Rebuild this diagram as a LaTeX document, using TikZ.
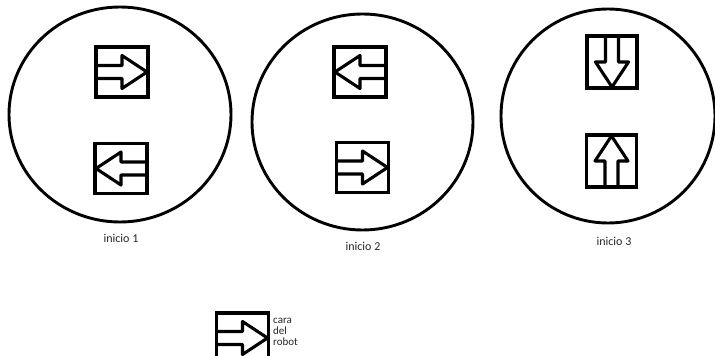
\documentclass[tikz,border=0pt]{standalone}
\usepackage{fontspec}
\setmainfont{Carlito}
\usetikzlibrary{shapes.geometric}
\tikzset{
  ring/.style={draw, ellipse, line width=2.9pt, inner sep=0pt},
  facebox/.style={draw, line width=3.1pt, line join=miter},
  facearrow/.style={draw, line width=3.1pt, line join=round},
  lbl/.style={font=\fontsize{12}{12}\selectfont, text=black!85, inner sep=0pt},
  face/.pic={
    \draw[facebox] (-26,-25) rectangle (26,25);
    \draw[facearrow] (-26,6.5) -- (0,6.5) -- (0,16.5) -- (25,0) -- (0,-16.5) -- (0,-6.5) -- (-26,-6.5);
  }
}
\begin{document}
\begin{tikzpicture}[x=1pt,y=1pt]
\useasboundingbox (0,0) rectangle (715,356);
% circles
\node[ring, minimum width=222pt, minimum height=215pt] (c1) at (120,241.5) {};
\node[ring, minimum width=221pt, minimum height=216pt] (c2) at (362.5,234) {};
\node[ring, minimum width=214pt, minimum height=214pt] (c3) at (608,240) {};
% faces
\pic at (122,284) {face};
\pic[rotate=180] at (121,187.5) {face};
\pic[rotate=180] at (360,284) {face};
\pic at (362.5,188.5) {face};
\pic[rotate=-90] at (612,294) {face};
\pic[rotate=90] at (611.5,195) {face};
% labels
\node[lbl] (l1) at (121,118) {inicio 1};
\node[lbl] (l2) at (363,110) {inicio 2};
\node[lbl] (l3) at (614,115) {inicio 3};
% legend
\pic at (242.5,18) {face};
\node[lbl, anchor=west, align=left, font=\fontsize{11}{11}\selectfont] (leg) at (273,24) {cara\\del\\robot};
\end{tikzpicture}
\end{document}
